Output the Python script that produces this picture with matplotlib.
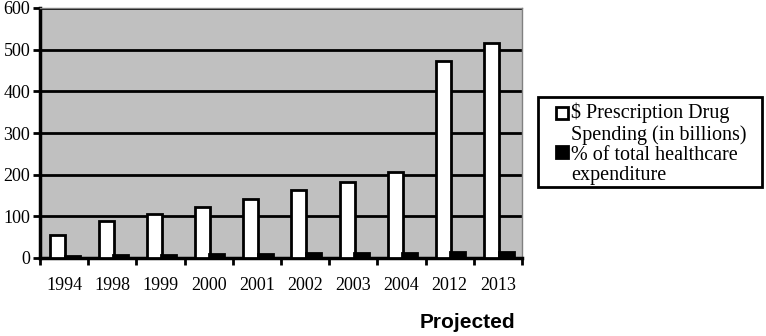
import numpy as np
import matplotlib.pyplot as plt
from matplotlib.patches import Rectangle

years = ['1994', '1998', '1999', '2000', '2001', '2002', '2003', '2004', '2012', '2013']
spending = [55, 89, 105, 122, 141, 163, 183, 207, 474, 517]
pct_total = [6, 7, 8, 9, 10, 11, 11, 11, 15, 15]
legend_lines = [['$ Prescription Drug', 'Spending (in billions)'],
                ['% of total healthcare', 'expenditure']]

serif = ['Liberation Serif', 'DejaVu Serif']
W, H = 766, 336

fig = plt.figure(figsize=(W / 100, H / 100), dpi=100)
ax = fig.add_axes([40 / W, 1 - 258 / H, 482 / W, 250 / H])

x = np.arange(len(years))
w = 0.31
ax.bar(x - 0.13, spending, width=w, color='white', edgecolor='black', linewidth=2, zorder=3)
ax.bar(x + 0.17, pct_total, width=w, color='black', edgecolor='black', linewidth=2, zorder=3)

ax.set_facecolor('#c0c0c0')
ax.set_xlim(-0.5, len(years) - 0.5)
ax.set_ylim(0, 600)
ax.set_yticks(range(0, 601, 100))
ax.yaxis.grid(True, color='black', linewidth=2, zorder=1)
ax.set_axisbelow(True)

ax.set_xticks(x, minor=False)
ax.set_xticklabels(years, fontfamily=serif, fontsize=13)
ax.tick_params(axis='x', which='major', length=0, pad=14)
ax.set_xticks(np.arange(-0.5, len(years), 1), minor=True)
ax.tick_params(axis='x', which='minor', length=5, width=2, direction='out')
ax.tick_params(axis='y', length=5, width=2, direction='out', pad=2)
for lbl in ax.get_yticklabels():
    lbl.set_fontfamily(serif)
    lbl.set_fontsize(13)

for s in ['left', 'bottom']:
    ax.spines[s].set_linewidth(2.5)
    ax.spines[s].set_color('black')
for s in ['top', 'right']:
    ax.spines[s].set_color('#808080')
    ax.spines[s].set_linewidth(1)

# legend box, drawn by hand so the swatches sit on the first line of each label
fig.patches.append(Rectangle((538 / W, 1 - 187 / H), 224 / W, 90 / H, transform=fig.transFigure,
                             facecolor='white', edgecolor='black', linewidth=2))
baselines = [[118, 140], [160, 180]]
swatch_top = [107, 146]
colors = ['white', 'black']
for lines, bl, st, c in zip(legend_lines, baselines, swatch_top, colors):
    fig.patches.append(Rectangle((556 / W, 1 - (st + 12) / H), 12 / W, 12 / H,
                                 transform=fig.transFigure, facecolor=c,
                                 edgecolor='black', linewidth=2))
    for txt, b in zip(lines, bl):
        fig.text(571 / W, 1 - b / H, txt, ha='left', va='baseline',
                 fontfamily=serif, fontsize=14.5)

fig.text(467 / W, 1 - 323 / H, 'Projected', ha='center', va='center',
         fontfamily=['Liberation Sans', 'DejaVu Sans'], fontweight='bold', fontsize=15)

fig.savefig('out.png', dpi=100)
